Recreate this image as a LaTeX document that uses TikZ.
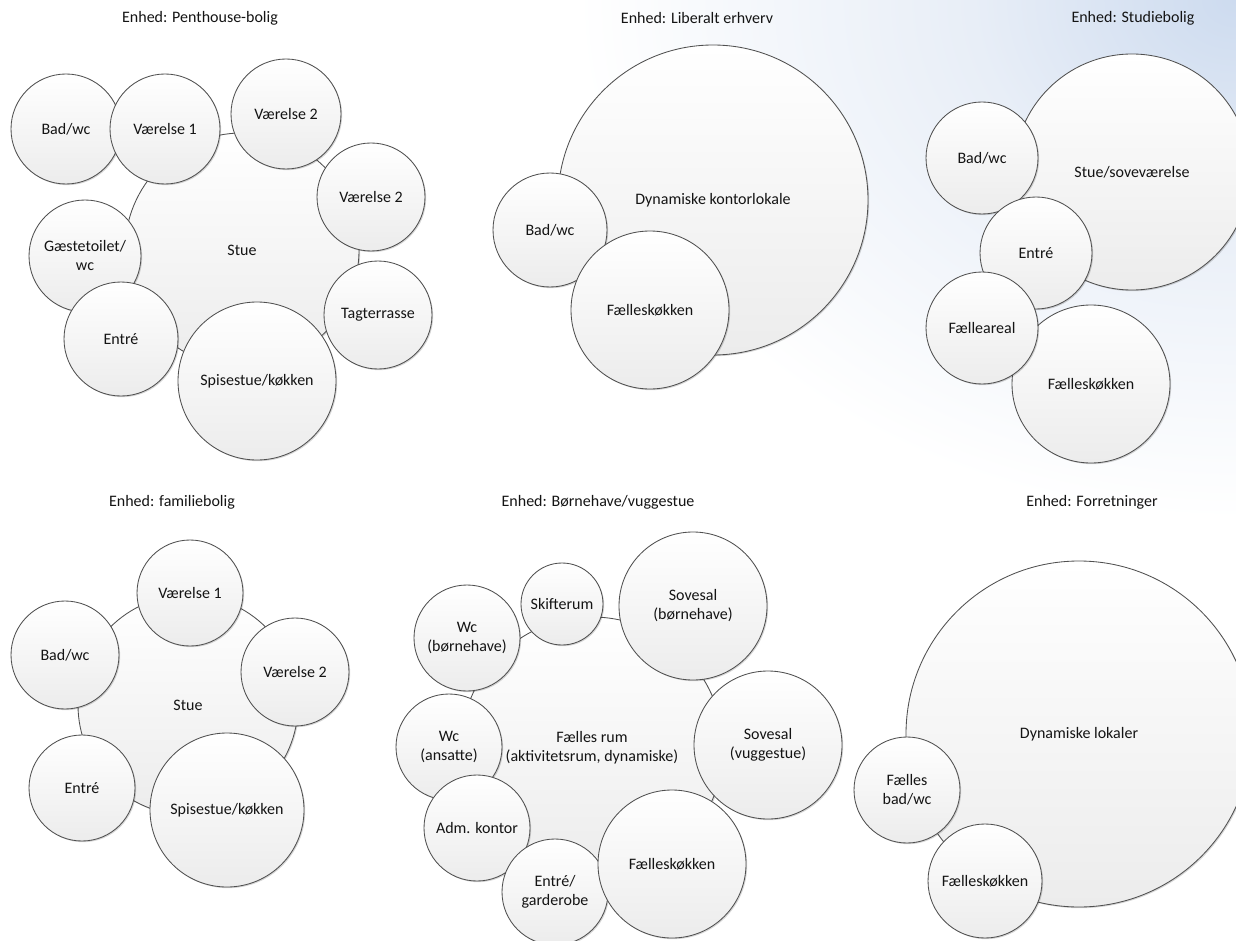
\documentclass[tikz,border=0pt]{standalone}
\usepackage{fontspec}
\setmainfont{Carlito}
\usetikzlibrary{shadows}

\definecolor{roomline}{RGB}{80,80,80}
\definecolor{roombottom}{RGB}{236,236,236}
\definecolor{cornerblue}{RGB}{205,219,239}
\definecolor{midblue}{RGB}{232,238,247}
\definecolor{inktext}{RGB}{20,20,20}

% soft glow in the top right corner: strong near the centre, fading out quickly
\pgfdeclareradialshading{cornerglow}{\pgfpoint{0bp}{0bp}}{%
  color(0bp)=(cornerblue); color(10bp)=(midblue); color(25bp)=(white); color(50bp)=(white)}

\tikzset{
  room/.style={circle, draw=roomline, line width=0.85pt,
    top color=white, bottom color=roombottom,
    inner sep=0pt, minimum size=#1, align=center,
    font=\fontsize{16}{19}\selectfont, text=inktext,
    drop shadow={shadow xshift=1.2pt, shadow yshift=-1.2pt, opacity=0.16, fill=black}},
  unittitle/.style={font=\fontsize{16}{19}\selectfont, text=inktext, inner sep=0pt},
}

\begin{document}
\begin{tikzpicture}[x=1pt, y=-1pt]
  % page and soft blue corner
  \useasboundingbox (0,0) rectangle (1236,941);
  \fill[white] (0,0) rectangle (1236,941);
  \begin{scope}
    \clip (0,0) rectangle (1236,941);
    \shade[shading=cornerglow] (1236,0) ellipse [x radius=660, y radius=520];
  \end{scope}

  % ---- Penthouse-bolig ----
  \node[unittitle] (ph-title) at (200,18) {Enhed: Penthouse-bolig};
  \node[room=234pt] (ph-stue) at (242,250) {Stue};
  \node[room=110pt] (ph-bad) at (66,129) {Bad/wc};
  \node[room=110pt] (ph-v1) at (165,129) {Værelse 1};
  \node[room=110pt] (ph-v2a) at (286,114) {Værelse 2};
  \node[room=108pt] (ph-v2b) at (371,197) {Værelse 2};
  \node[room=108pt] (ph-tag) at (378,315) {Tagterrasse};
  \node[room=112pt] (ph-gaest) at (85,256) {Gæstetoilet/\\wc};
  \node[room=114pt] (ph-entre) at (121,339) {Entré};
  \node[room=158pt] (ph-spis) at (257,381) {Spisestue/køkken};

  % ---- Liberalt erhverv ----
  \node[unittitle] (le-title) at (697,18) {Enhed: Liberalt erhverv};
  \node[room=310pt] (le-dyn) at (713,200) {Dynamiske kontorlokale};
  \node[room=114pt] (le-bad) at (550,230) {Bad/wc};
  \node[room=158pt] (le-kok) at (650,310) {Fælleskøkken};

  % ---- Studiebolig ----
  \node[unittitle] (sb-title) at (1133,18) {Enhed: Studiebolig};
  \node[room=236pt] (sb-stue) at (1132,172) {Stue/soveværelse};
  \node[room=112pt] (sb-bad) at (982,158) {Bad/wc};
  \node[room=112pt] (sb-entre) at (1036,253) {Entré};
  \node[room=158pt] (sb-kok) at (1091,384) {Fælleskøkken};
  \node[room=112pt] (sb-faell) at (982,328) {Fælleareal};

  % ---- familiebolig ----
  \node[unittitle] (fb-title) at (172,502) {Enhed: familiebolig};
  \node[room=220pt] (fb-stue) at (188,705) {Stue};
  \node[room=106pt] (fb-v1) at (190,593) {Værelse 1};
  \node[room=108pt] (fb-v2) at (295,672) {Værelse 2};
  \node[room=108pt] (fb-bad) at (65,655) {Bad/wc};
  \node[room=106pt] (fb-entre) at (82,788) {Entré};
  \node[room=154pt] (fb-spis) at (227,810) {Spisestue/køkken};

  % ---- Børnehave/vuggestue ----
  \node[unittitle] (bh-title) at (598,502) {Enhed: Børnehave/vuggestue};
  \node[room=262pt] (bh-rum) at (592,748) {Fælles rum\\(aktivitetsrum, dynamiske)};
  \node[room=82pt] (bh-skift) at (562,604) {Skifterum};
  \node[room=106pt] (bh-wcb) at (467,638) {Wc\\(børnehave)};
  \node[room=148pt] (bh-sovb) at (693,606) {Sovesal\\(børnehave)};
  \node[room=148pt] (bh-sovv) at (768,745) {Sovesal\\(vuggestue)};
  \node[room=106pt] (bh-wca) at (449,747) {Wc\\(ansatte)};
  \node[room=106pt] (bh-adm) at (477,828) {Adm. kontor};
  \node[room=106pt] (bh-entre) at (555,892) {Entré/\\garderobe};
  \node[room=148pt] (bh-kok) at (672,864) {Fælleskøkken};

  % ---- Forretninger ----
  \node[unittitle] (fo-title) at (1092,502) {Enhed: Forretninger};
  \node[room=346pt] (fo-dyn) at (1079,734) {Dynamiske lokaler};
  \node[room=106pt] (fo-bad) at (907,790) {Fælles\\bad/wc};
  \node[room=114pt] (fo-kok) at (985,881) {Fælleskøkken};
\end{tikzpicture}
\end{document}
